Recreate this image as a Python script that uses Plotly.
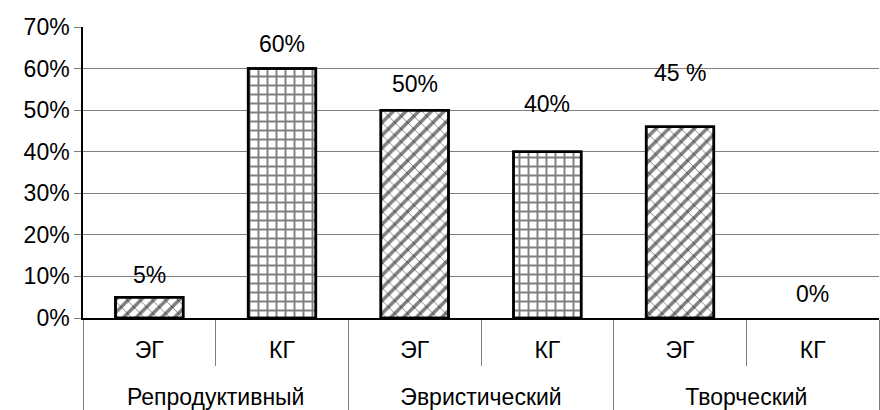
import plotly.graph_objects as go

groups = ["Репродуктивный", "Репродуктивный", "Эвристический", "Эвристический", "Творческий", "Творческий"]
subgroups = ["ЭГ", "КГ", "ЭГ", "КГ", "ЭГ", "КГ"]
values = [0.05, 0.60, 0.50, 0.40, 0.46, 0.0]
labels = ["5%", "60%", "50%", "40%", "45 %", "0%"]

FONT = "Liberation Sans, Arial, sans-serif"
FS = 23
# leading line break pushes the group row down, as in the reference
group_disp = ["<br>" + g for g in groups]
main_shape = ["/" if s == "ЭГ" else "+" for s in subgroups]
second_shape = ["\\" if s == "ЭГ" else "" for s in subgroups]
outline = [2.5 if v > 0 else 0 for v in values]
# per-label vertical offsets (px) above bar tops, as in the reference
label_shift = [22, 25, 26, 48, 54, 24]

fig = go.Figure()
fig.add_trace(go.Bar(
    x=[group_disp, subgroups], y=values, width=0.51,
    marker=dict(color="white", line=dict(color="black", width=outline),
                pattern=dict(shape=main_shape, size=9, solidity=0.38,
                             fgcolor="black", bgcolor="white", fillmode="overlay")),
    showlegend=False, hoverinfo="skip"))
fig.add_trace(go.Bar(
    x=[group_disp, subgroups], y=values, width=0.51,
    marker=dict(color="rgba(0,0,0,0)", line=dict(color="black", width=outline),
                pattern=dict(shape=second_shape, size=9, solidity=0.1,
                             fgcolor="black", bgcolor="rgba(0,0,0,0)", fillmode="overlay")),
    showlegend=False, hoverinfo="skip"))

for i, (v, t, sh) in enumerate(zip(values, labels, label_shift)):
    fig.add_annotation(x=i, y=v, text=t, showarrow=False,
                       font=dict(family=FONT, size=FS, color="black"),
                       yshift=sh, xref="x", yref="y")

fig.update_layout(
    width=880, height=410, barmode="overlay",
    margin=dict(l=83, r=1, t=27, b=89),
    plot_bgcolor="white", paper_bgcolor="white",
    font=dict(family=FONT, size=FS, color="black"),
    xaxis=dict(type="multicategory", showline=True, linecolor="black", linewidth=1.5,
               ticks="outside", tickson="boundaries", ticklen=46, tickcolor="#808080",
               tickwidth=1, showdividers=True, dividercolor="#808080", dividerwidth=1,
               ticklabelstandoff=11,
               tickfont=dict(family=FONT, size=FS, color="black")),
    yaxis=dict(range=[0, 0.7], dtick=0.1, tickformat=".0%", showgrid=True,
               gridcolor="#808080", gridwidth=1, showline=True, linecolor="black",
               linewidth=1.5, ticks="outside", ticklen=7, tickcolor="#808080",
               zeroline=False, automargin=False,
               tickfont=dict(family=FONT, size=FS, color="black")),
)

fig.write_html("out.html")
